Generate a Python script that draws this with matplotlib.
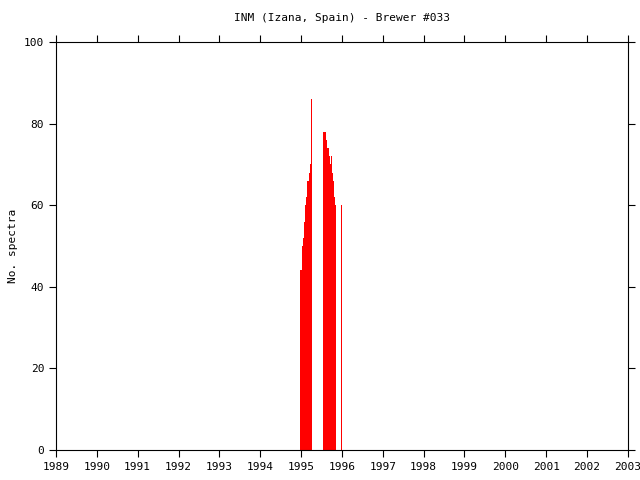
import matplotlib
matplotlib.use('Agg')
import matplotlib.pyplot as plt

# decimal-year start of each bin and the number of spectra in it
dates = [1994.984, 1995.008, 1995.033, 1995.057, 1995.082, 1995.107, 1995.131,
         1995.156, 1995.180, 1995.205, 1995.230, 1995.254,
         1995.549, 1995.574, 1995.598, 1995.623, 1995.648, 1995.672, 1995.697,
         1995.721, 1995.746, 1995.770, 1995.795, 1995.820,
         1995.984]
spectra = [44, 44, 50, 52, 56, 60, 62,
           66, 66, 68, 70, 86,
           78, 78, 76, 74, 74, 72, 70,
           72, 68, 66, 62, 60,
           60]

years = list(range(1989, 2004))
yticks = [0, 20, 40, 60, 80, 100]

plt.rcParams['font.family'] = 'DejaVu Sans Mono'
fig = plt.figure(figsize=(6.4, 4.8), dpi=100)
ax = fig.add_axes([0.0875, 0.0625, 0.8935, 0.85])

ax.bar(dates, spectra, width=0.025, align='edge', color='red',
       linewidth=0, antialiased=False)

ax.set_xlim(1989, 2003)
ax.set_ylim(0, 100)
ax.set_xticks(years)
ax.set_xticklabels([str(y) for y in years])
ax.set_yticks(yticks)
ax.tick_params(direction='out', length=5, width=0.8, labelsize=8,
               top=True, right=True, colors='black')
for s in ax.spines.values():
    s.set_linewidth(0.8)

ax.set_ylabel('No. spectra', fontsize=8)
ax.set_title('INM (Izana, Spain) - Brewer #033', fontsize=8, pad=15)

plt.savefig('out.png', dpi=100)
